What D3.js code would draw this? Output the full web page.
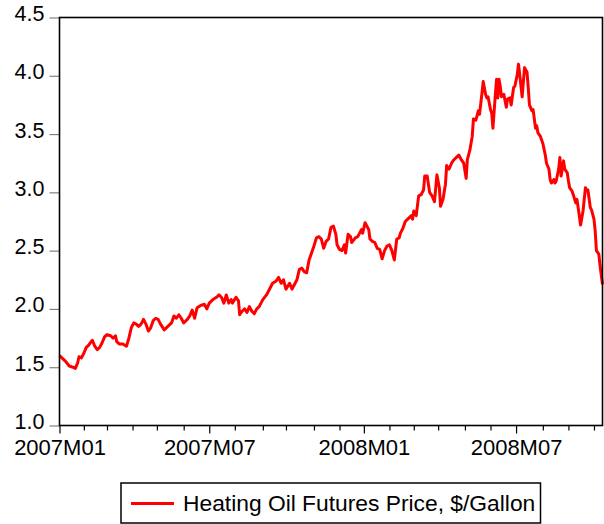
<!DOCTYPE html>
<html>
<head>
  <script src="https://d3js.org/d3.v7.min.js"></script>
  <style>
    body {
      margin: 0;
      background-color: #ffffff;
      overflow: hidden;
    }
    text {
      font-family: "Liberation Sans", Arial, sans-serif;
      fill: #000;
    }
  </style>
</head>
<body>
  <script>
    const seriesName = "Heating Oil Futures Price, $/Gallon";

    // trading-day number (0 = first obs of 2007M01) and price
    const tradingDay = [
      0, 2, 5, 8, 11, 13, 15, 16, 18, 20, 22, 24, 26, 27, 29, 31, 33, 35, 37, 39,
      42, 44, 46, 47, 49, 52, 55, 57, 59, 61, 63, 65, 67, 69, 71, 73, 75, 77, 79, 81,
      83, 86, 89, 92, 94, 96, 98, 100, 102, 105, 107, 109, 111, 113, 116, 119, 121, 123, 126, 129,
      131, 133, 135, 137, 139, 141, 142, 145, 147, 148, 150, 152, 154, 156, 158, 160, 162, 164, 167, 170,
      173, 175, 178, 180, 182, 184, 186, 189, 191, 193, 195, 197, 199, 201, 203, 205, 207, 209, 211, 213,
      215, 217, 219, 221, 223, 225, 227, 228, 230, 232, 234, 235, 237, 239, 240, 243, 245, 248, 249, 251,
      254, 255, 257, 259, 261, 263, 265, 267, 269, 271, 273, 275, 277, 279, 280, 282, 284, 286, 289, 290,
      291, 293, 295, 297, 299, 300, 302, 304, 306, 308, 310, 312, 313, 315, 317, 318, 320, 322, 324, 326,
      328, 330, 332, 334, 335, 337, 339, 340, 342, 344, 345, 347, 348, 350, 351, 352, 354, 355, 356, 358,
      359, 360, 361, 362, 363, 365, 367, 368, 370, 371, 373, 374, 376, 377, 378, 380, 381, 382, 384, 385,
      386, 388, 389, 391, 392, 393, 395, 396, 397, 399, 400, 402, 403, 404, 406, 407, 408, 410, 411, 412,
      413, 414, 415, 417, 418, 419, 421, 422, 424, 425, 426, 428, 429, 430, 432, 433, 434, 436, 437, 439,
      440, 441, 443, 444, 446
    ];
    const price = [
      1.60, 1.58, 1.55, 1.51, 1.50, 1.49, 1.54, 1.59, 1.58, 1.62, 1.67, 1.69, 1.72, 1.73, 1.68, 1.65, 1.67, 1.71, 1.76, 1.78,
      1.77, 1.75, 1.77, 1.72, 1.70, 1.70, 1.68, 1.75, 1.84, 1.88, 1.87, 1.85, 1.87, 1.91, 1.87, 1.81, 1.84, 1.90, 1.92, 1.91,
      1.87, 1.82, 1.85, 1.88, 1.94, 1.92, 1.95, 1.92, 1.88, 1.91, 1.94, 1.99, 1.92, 2.01, 2.03, 2.04, 2.00, 2.05, 2.08, 2.10,
      2.12, 2.10, 2.05, 2.12, 2.05, 2.08, 2.05, 2.10, 2.07, 1.95, 1.98, 2.00, 1.97, 2.02, 1.98, 1.96, 2.00, 2.02, 2.08, 2.12,
      2.18, 2.22, 2.24, 2.27, 2.22, 2.25, 2.17, 2.22, 2.17, 2.21, 2.25, 2.34, 2.35, 2.32, 2.31, 2.42, 2.48, 2.54, 2.61, 2.62,
      2.60, 2.52, 2.58, 2.60, 2.70, 2.71, 2.64, 2.55, 2.51, 2.50, 2.55, 2.48, 2.64, 2.62, 2.57, 2.61, 2.62, 2.68, 2.65, 2.74,
      2.68, 2.60, 2.58, 2.57, 2.52, 2.51, 2.43, 2.50, 2.54, 2.55, 2.50, 2.42, 2.60, 2.61, 2.65, 2.69, 2.75, 2.77, 2.80, 2.77,
      2.84, 2.80, 2.97, 2.98, 3.02, 3.14, 3.14, 3.00, 2.97, 2.92, 3.15, 3.04, 2.88, 2.94, 3.07, 3.23, 3.20, 3.25, 3.28, 3.30,
      3.32, 3.28, 3.25, 3.12, 3.28, 3.36, 3.48, 3.63, 3.62, 3.70, 3.67, 3.85, 3.95, 3.84, 3.81, 3.82, 3.71, 3.68, 3.55, 3.84,
      3.97, 3.81, 3.97, 3.91, 3.82, 3.84, 3.73, 3.80, 3.81, 3.75, 3.90, 3.91, 4.01, 4.10, 4.01, 3.82, 3.95, 4.07, 4.03, 3.90,
      3.75, 3.70, 3.71, 3.55, 3.57, 3.51, 3.48, 3.45, 3.42, 3.32, 3.25, 3.20, 3.11, 3.08, 3.11, 3.08, 3.10, 3.20, 3.30, 3.14,
      3.20, 3.27, 3.20, 3.17, 3.10, 3.04, 3.01, 2.98, 2.91, 2.94, 2.87, 2.72, 2.78, 2.84, 3.04, 3.02, 3.02, 2.87, 2.85, 2.77,
      2.67, 2.50, 2.47, 2.37, 2.21
    ];

    // first trading day of each month, 2007M01 .. 2008M10
    const monthStart = [0, 20, 39, 60, 80, 102, 123, 144, 167, 186, 209, 230, 250, 271, 291, 311, 333, 354, 375, 397, 418, 439];
    const majorDays = [0, 123, 250, 375];
    const majorLabels = ["2007M01", "2007M07", "2008M01", "2008M07"];
    const yTicks = [1.0, 1.5, 2.0, 2.5, 3.0, 3.5, 4.0, 4.5];

    const width = 604;
    const height = 524;
    const plot = { left: 59.5, right: 602.5, top: 17.5, bottom: 425.5 };

    const svg = d3.select("body").append("svg")
      .attr("width", width)
      .attr("height", height);

    const x = d3.scaleLinear().domain([0, 446]).range([plot.left, plot.right]);
    const y = d3.scaleLinear().domain([1, 4.5]).range([plot.bottom, plot.top]);

    // y axis: gray ticks outside the frame
    const yAxis = svg.append("g")
      .attr("transform", `translate(${plot.left},0)`)
      .call(d3.axisLeft(y).tickValues(yTicks).tickFormat(d3.format(".1f")).tickSize(10).tickPadding(5));
    yAxis.select(".domain").remove();
    yAxis.selectAll(".tick line").attr("stroke", "#808080").attr("stroke-width", 1.2);
    yAxis.selectAll(".tick text")
      .attr("font-size", "21.5px")
      .attr("font-family", "Liberation Sans, Arial, sans-serif")
      .attr("dy", "3px");

    // x axis: monthly ticks, longer at the labelled months
    const xAxis = svg.append("g")
      .attr("transform", `translate(0,${plot.bottom})`)
      .call(d3.axisBottom(x).tickValues(monthStart).tickSize(5)
        .tickFormat(d => {
          const k = majorDays.indexOf(d);
          return k >= 0 ? majorLabels[k] : "";
        }));
    xAxis.select(".domain").remove();
    xAxis.selectAll(".tick line")
      .attr("stroke", "#000")
      .attr("stroke-width", 1.2)
      .attr("y2", d => majorDays.includes(d) ? 8 : 5);
    xAxis.selectAll(".tick text")
      .attr("font-size", "22px")
      .attr("font-family", "Liberation Sans, Arial, sans-serif")
      .attr("y", 29.5)
      .attr("dy", 0);

    // series line
    const points = tradingDay.map((d, i) => [d, price[i]]);
    svg.append("path")
      .datum(points)
      .attr("fill", "none")
      .attr("stroke", "#ff0000")
      .attr("stroke-width", 3)
      .attr("stroke-linejoin", "round")
      .attr("d", d3.line().x(d => x(d[0])).y(d => y(d[1])));

    // frame
    svg.append("rect")
      .attr("x", plot.left)
      .attr("y", plot.top)
      .attr("width", plot.right - plot.left)
      .attr("height", plot.bottom - plot.top)
      .attr("fill", "none")
      .attr("stroke", "#000")
      .attr("stroke-width", 1.6);

    // legend
    const legend = svg.append("g");
    legend.append("rect")
      .attr("x", 121)
      .attr("y", 483)
      .attr("width", 419.5)
      .attr("height", 40)
      .attr("fill", "none")
      .attr("stroke", "#000")
      .attr("stroke-width", 1.5);
    legend.append("line")
      .attr("x1", 131).attr("x2", 174)
      .attr("y1", 503.5).attr("y2", 503.5)
      .attr("stroke", "#ff0000")
      .attr("stroke-width", 3);
    legend.append("text")
      .attr("x", 183)
      .attr("y", 511)
      .attr("font-size", "22.8px")
      .text(seriesName);
  </script>
</body>
</html>
